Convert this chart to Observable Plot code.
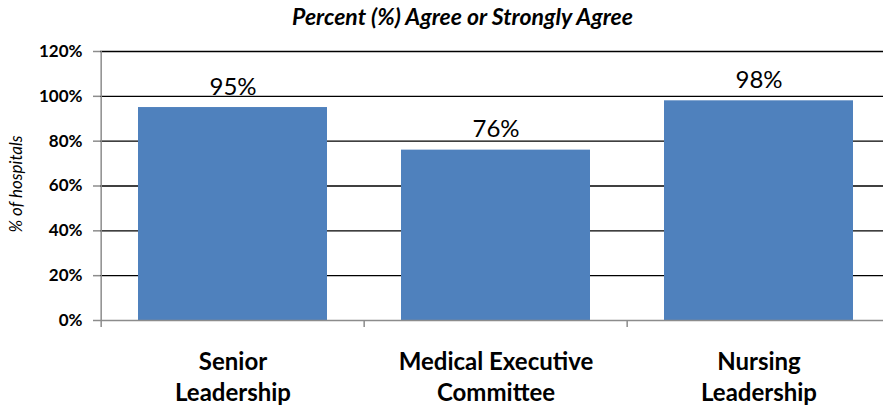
<!DOCTYPE html>
<html>
<head>
<meta charset="utf-8">
<script src="https://cdn.jsdelivr.net/npm/d3@7"></script>
<script src="https://cdn.jsdelivr.net/npm/@observablehq/plot@0.6"></script>
<style>
  body { margin: 0; background: #fff; font-family: Lato, "Open Sans", sans-serif; }
  #title { width: 883px; height: 36px; line-height: 32px; box-sizing: border-box; padding-left: 42px; padding-top: 2px;
           text-align: center; font: italic bold 23px Lato, sans-serif; color: #000; white-space: nowrap; overflow: hidden; }
  #chart svg { display: block; }
</style>
</head>
<body>
<div id="title">Percent (%) Agree or Strongly Agree</div>
<div id="chart"></div>
<script>
const categories = ["Senior Leadership", "Medical Executive Committee", "Nursing Leadership"];
const categoryLabels = ["Senior\nLeadership", "Medical Executive\nCommittee", "Nursing\nLeadership"];
const values = [95, 76, 98];
const yTicks = [0, 20, 40, 60, 80, 100, 120];
const yAxisLabel = "% of hospitals";

const data = categories.map((c, i) => ({cat: c, label: categoryLabels[i], value: values[i]}));

const W = 883, H = 373;
const xRange = [100, 891];
const step = (xRange[1] - xRange[0]) / categories.length;
const gray = "#8c8c8c";

const chart = Plot.plot({
  width: W,
  height: H,
  marginLeft: 100,
  marginRight: 0,
  marginTop: 15,
  marginBottom: 89,
  style: {fontFamily: "Lato, sans-serif", background: "#fff", color: "#000"},
  x: {type: "band", domain: categories, range: xRange, paddingInner: 0.28, paddingOuter: 0.14, axis: null},
  y: {domain: [0, 120], axis: null},
  marks: [
    Plot.gridY(yTicks.filter(d => d > 0), {stroke: "#000", strokeOpacity: 1, strokeWidth: 1.4}),
    Plot.barY(data, {x: "cat", y: "value", fill: "#4F81BD"}),
    Plot.ruleY([0], {stroke: gray, strokeWidth: 1.5}),
    Plot.ruleX(categories.slice(0, 1), {x: d => d, dx: -step / 2, y1: 0, y2: 120, stroke: gray, strokeWidth: 1.5}),
    Plot.ruleX(categories, {x: d => d, dx: -step / 2, y1: 0, y2: 0, insetBottom: -7, stroke: gray, strokeWidth: 1.5}),
    Plot.axisY({ticks: yTicks, tickFormat: d => d + "%", tickSize: 7, tickPadding: 11,
                stroke: gray, strokeWidth: 1.5, fill: "#000", fontSize: 17, fontWeight: "bold", label: null}),
    Plot.text(data, {x: "cat", y: "value", text: d => d.value + "%", lineAnchor: "bottom", dy: -13,
                     fontSize: 24, fill: "#000"}),
    Plot.text(data, {x: "cat", y: () => 0, text: "label", lineAnchor: "top", dy: 27, lineHeight: 1.3,
                     fontSize: 24, fontWeight: "bold", fill: "#000"}),
    Plot.text([yAxisLabel], {frameAnchor: "left", textAnchor: "middle", lineAnchor: "middle", dx: -84, dy: -2,
                             rotate: -90, fontSize: 17, fontStyle: "italic", fill: "#000"})
  ]
});
document.getElementById("chart").appendChild(chart);
</script>
</body>
</html>
